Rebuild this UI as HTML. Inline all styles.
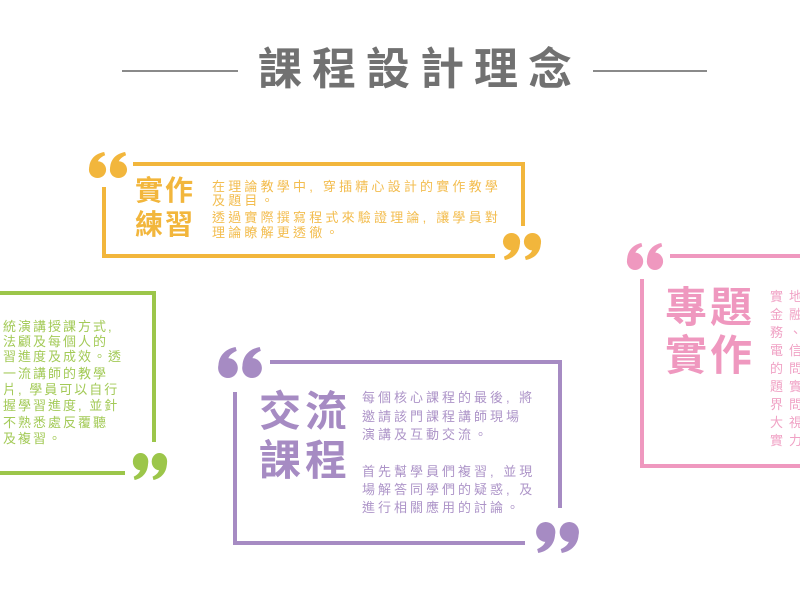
<!DOCTYPE html>
<html><head><meta charset="utf-8">
<style>
html,body{margin:0;padding:0;}
body{width:800px;height:600px;overflow:hidden;background:#fff;position:relative;font-family:"Liberation Sans","Noto Sans CJK TC",sans-serif;}
.t{position:absolute;white-space:nowrap;}
svg{position:absolute;left:0;top:0;}
.y{color:#f2b63c}.g{color:#9cc64a}.p{color:#a68bc3}.k{color:#ef98bf}
.yb{color:#f3bd4f}.gb{color:#a3ca57}.pb{color:#ad94c8}.kb{color:#f0a2c5}
.body13{font-size:13px;line-height:16px;}
</style></head>
<body>
<svg width="800" height="600" viewBox="0 0 800 600">
<rect x="122" y="70" width="116" height="2" fill="#8a8a8a"/>
<rect x="593" y="70" width="114" height="2" fill="#8a8a8a"/>

<g fill="#f2b63c">
<rect x="133" y="162" width="392" height="4"/>
<rect x="521" y="162" width="4" height="64"/>
<rect x="102" y="187" width="4" height="71"/>
<rect x="102" y="254" width="393" height="4"/>
<g transform="translate(88,152) scale(0.952,0.93)">
<circle cx="10" cy="19" r="9"/><path d="M1.5,21 C0,10 6,2 17,0 L18,3.5 C12,6 9.5,10 10,13 Z"/>
<circle cx="32" cy="19" r="9"/><path d="M23.5,21 C22,10 28,2 39,0 L40,3.5 C34,6 31.5,10 32,13 Z"/>
</g>
<g transform="translate(542,260) scale(-0.952,-0.965)">
<circle cx="10" cy="19" r="9"/><path d="M1.5,21 C0,10 6,2 17,0 L18,3.5 C12,6 9.5,10 10,13 Z"/>
<circle cx="32" cy="19" r="9"/><path d="M23.5,21 C22,10 28,2 39,0 L40,3.5 C34,6 31.5,10 32,13 Z"/>
</g>
</g>

<g fill="#9cc64a">
<rect x="0" y="291" width="156" height="4"/>
<rect x="152" y="291" width="4" height="151"/>
<rect x="0" y="471" width="125" height="4"/>
<g transform="translate(168,480) scale(-0.857,-0.965)">
<circle cx="10" cy="19" r="9"/><path d="M1.5,21 C0,10 6,2 17,0 L18,3.5 C12,6 9.5,10 10,13 Z"/>
<circle cx="32" cy="19" r="9"/><path d="M23.5,21 C22,10 28,2 39,0 L40,3.5 C34,6 31.5,10 32,13 Z"/>
</g>
</g>

<g fill="#a68bc3">
<rect x="270" y="360" width="292" height="4"/>
<rect x="558" y="360" width="4" height="148"/>
<rect x="233" y="392" width="4" height="153"/>
<rect x="233" y="541" width="292" height="4"/>
<g transform="translate(217,347) scale(1.095,1.107)">
<circle cx="10" cy="19" r="9"/><path d="M1.5,21 C0,10 6,2 17,0 L18,3.5 C12,6 9.5,10 10,13 Z"/>
<circle cx="32" cy="19" r="9"/><path d="M23.5,21 C22,10 28,2 39,0 L40,3.5 C34,6 31.5,10 32,13 Z"/>
</g>
<g transform="translate(580,553) scale(-1.071,-1.107)">
<circle cx="10" cy="19" r="9"/><path d="M1.5,21 C0,10 6,2 17,0 L18,3.5 C12,6 9.5,10 10,13 Z"/>
<circle cx="32" cy="19" r="9"/><path d="M23.5,21 C22,10 28,2 39,0 L40,3.5 C34,6 31.5,10 32,13 Z"/>
</g>
</g>

<g fill="#ef98bf">
<rect x="670" y="254" width="130" height="4"/>
<rect x="640" y="279" width="4" height="189"/>
<rect x="640" y="464" width="160" height="4"/>
<g transform="translate(626,243) scale(0.905,0.965)">
<circle cx="10" cy="19" r="9"/><path d="M1.5,21 C0,10 6,2 17,0 L18,3.5 C12,6 9.5,10 10,13 Z"/>
<circle cx="32" cy="19" r="9"/><path d="M23.5,21 C22,10 28,2 39,0 L40,3.5 C34,6 31.5,10 32,13 Z"/>
</g>
</g>
</svg>

<div class="t" style="left:258px;top:47px;font-size:44px;line-height:46px;font-weight:bold;letter-spacing:10px;color:#717171;">課程設計理念</div>

<div class="t y" style="left:135px;top:174px;font-size:28px;line-height:34px;font-weight:bold;letter-spacing:2px;">實作<br>練習</div>
<div class="t yb body13" style="left:212px;top:179px;letter-spacing:3.2px;">在理論教學中, 穿插精心設計的實作教學</div>
<div class="t yb body13" style="left:212px;top:193px;letter-spacing:3.2px;">及題目。</div>
<div class="t yb body13" style="left:212px;top:210px;letter-spacing:3.2px;">透過實際撰寫程式來驗證理論, 讓學員對</div>
<div class="t yb body13" style="left:212px;top:225px;letter-spacing:3.2px;">理論瞭解更透徹。</div>

<div class="t gb body13" style="left:3px;top:319px;letter-spacing:2px;">統演講授課方式,</div>
<div class="t gb body13" style="left:3px;top:334px;letter-spacing:2px;">法顧及每個人的</div>
<div class="t gb body13" style="left:3px;top:349px;letter-spacing:2px;">習進度及成效。透</div>
<div class="t gb body13" style="left:3px;top:366px;letter-spacing:2px;">一流講師的教學</div>
<div class="t gb body13" style="left:3px;top:382px;letter-spacing:2px;">片, 學員可以自行</div>
<div class="t gb body13" style="left:3px;top:398px;letter-spacing:2px;">握學習進度, 並針</div>
<div class="t gb body13" style="left:3px;top:415px;letter-spacing:2px;">不熟悉處反覆聽</div>
<div class="t gb body13" style="left:3px;top:431px;letter-spacing:2px;">及複習。</div>

<div class="t p" style="left:259px;top:388px;font-size:42px;line-height:48.5px;font-weight:bold;letter-spacing:4px;">交流<br>課程</div>
<div class="t pb body13" style="left:362px;top:390px;letter-spacing:3px;">每個核心課程的最後, 將</div>
<div class="t pb body13" style="left:362px;top:409px;letter-spacing:3px;">邀請該門課程講師現場</div>
<div class="t pb body13" style="left:362px;top:427px;letter-spacing:3px;">演講及互動交流。</div>
<div class="t pb body13" style="left:362px;top:464px;letter-spacing:3px;">首先幫學員們複習, 並現</div>
<div class="t pb body13" style="left:362px;top:482px;letter-spacing:3px;">場解答同學們的疑惑, 及</div>
<div class="t pb body13" style="left:362px;top:500px;letter-spacing:3px;">進行相關應用的討論。</div>

<div class="t k" style="left:665px;top:284px;font-size:42px;line-height:47.5px;font-weight:bold;letter-spacing:3px;">專題<br>實作</div>
<div class="t kb" style="left:770px;top:288px;font-size:13px;line-height:18px;letter-spacing:6px;">實地<br>金融<br>務<span style="letter-spacing:0">、</span>化<br>電信<br>的問<br>題實<br>界問<br>大視<br>實力</div>
</body></html>
